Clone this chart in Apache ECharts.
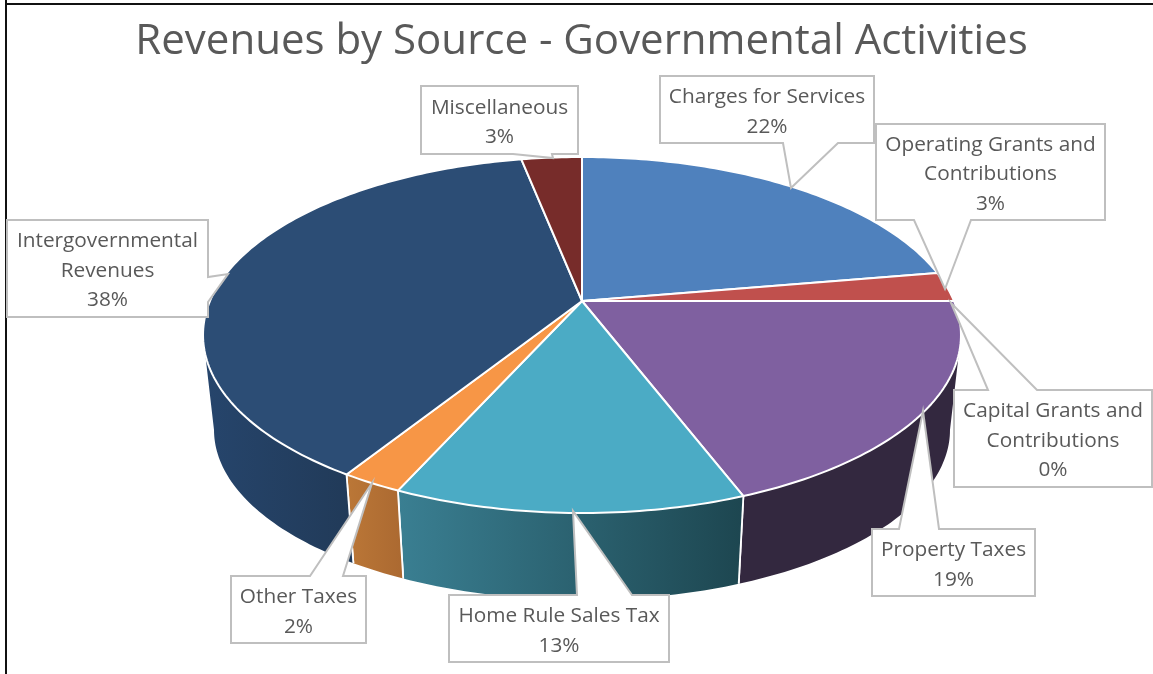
<!DOCTYPE html>
<html>
<head>
<meta charset="utf-8">
<style>html,body{margin:0;padding:0;background:#fff}#c{width:1153px;height:674px}</style>
<script src="https://cdn.jsdelivr.net/npm/echarts@6/dist/echarts.min.js"></script>
</head>
<body>
<div id="c"></div>
<script>
var titleText = 'Revenues by Source - Governmental Activities';
var categories = ['Charges for Services', 'Operating Grants and\nContributions', 'Capital Grants and\nContributions', 'Property Taxes', 'Home Rule Sales Tax', 'Other Taxes', 'Intergovernmental\nRevenues', 'Miscellaneous'];
var values = [22.3, 2.7, 0, 19.2, 12.5, 2.2, 38.0, 3.1];
var topColors = ['#4f81bd', '#c0504d', '#9bbb59', '#7f60a0', '#4babc5', '#f79646', '#2c4d75', '#772c2a'];
var sideLeft = ['#3f658f', '#8e3b39', '#738a42', '#33283f', '#3a7f92', '#bb7737', '#26456c', '#582120'];
var sideRight = ['#3f658f', '#8e3b39', '#738a42', '#33283f', '#1d4650', '#ab6931', '#213a58', '#582120'];
// callout layout: box [x0,y0,x1,y1], wedge [base, tip, base]
var callouts = [
  {box:[660,76,874,143], wedge:[[838,143],[791,188],[783,143]], side:'b'},
  {box:[876,124,1105,220], wedge:[[971,220],[945,289],[914,220]], side:'b'},
  {box:[954,390,1152,487], wedge:[[988,390],[951,303],[1037,390]], side:'t'},
  {box:[872,529,1035,596], wedge:[[899,529],[923,411],[939,529]], side:'t'},
  {box:[449,595,669,662], wedge:[[577,595],[573,511],[632,595]], side:'t'},
  {box:[231,576,366,643], wedge:[[310,576],[372,483],[343,576]], side:'t'},
  {box:[7,220,208,317], wedge:[[208,277],[228,274],[208,302]], side:'r'},
  {box:[421,86,578,154], wedge:[[552,154],[553,158],[513,154]], side:'b'}
];
var total = values.reduce(function(a,b){return a+b;},0);
var cum = [0];
values.forEach(function(v,i){cum.push(cum[i]+v);});

var cx=582, py=301, a=171.5, b=372, k=-0.191, depthY=430, ey=335, sx=0.971, sy=0.955;
var rimStart=101, rimEnd=259;
function pt(deg){
  var t=deg*Math.PI/180, u=Math.sin(t), v=-Math.cos(t), d=1+k*v;
  return [cx+b*u/d, py+a*v/d];
}
function low(p){ return [cx+(p[0]-cx)*sx, depthY+(p[1]-ey)*sy]; }
function arc(d0,d1){
  var r=[], n=Math.max(2,Math.ceil(Math.abs(d1-d0)));
  for(var i=0;i<=n;i++) r.push(pt(d0+(d1-d0)*i/n));
  return r;
}
function span(i){ return [cum[i]/total*360, cum[i+1]/total*360]; }

function renderSide(params, api){
  var i=params.dataIndex, s=span(i), d0=Math.max(s[0],rimStart), d1=Math.min(s[1],rimEnd);
  if(api.value(0)<=0 || d1<=d0) return {type:'group',children:[]};
  var t=arc(d0,d1), l=t.map(low).reverse();
  var kids=[{type:'polygon',shape:{points:t.concat(l)},style:{
    fill:{type:'linear',x:0,y:0,x2:1,y2:0,colorStops:[{offset:0,color:sideLeft[i]},{offset:1,color:sideRight[i]}]},
    stroke:null}}];
  [[d0,s[0]],[d1,s[1]]].forEach(function(e){
    if(e[0]===e[1] && e[0]>rimStart && e[0]<rimEnd){
      var p=pt(e[0]), q=low(p);
      kids.push({type:'line',shape:{x1:p[0],y1:p[1],x2:q[0],y2:q[1]},style:{stroke:'#fff',lineWidth:1.8}});
    }
  });
  return {type:'group',children:kids};
}
function renderTop(params, api){
  var i=params.dataIndex, s=span(i);
  if(api.value(0)<=0) return {type:'group',children:[]};
  return {type:'polygon',shape:{points:[[cx,py]].concat(arc(s[0],s[1]))},
    style:{fill:topColors[i],stroke:'#fff',lineWidth:2,lineJoin:'round'}};
}
function renderCallout(params, api){
  var i=params.dataIndex, c=callouts[i], B=c.box, w=c.wedge, pts;
  var x0=B[0],y0=B[1],x1=B[2],y1=B[3];
  if(c.side==='b') pts=[[x0,y0],[x1,y0],[x1,y1]].concat(w).concat([[x0,y1]]);
  else if(c.side==='t') pts=[[x0,y0]].concat(w).concat([[x1,y0],[x1,y1],[x0,y1]]);
  else pts=[[x0,y0],[x1,y0]].concat(w).concat([[x1,y1],[x0,y1]]);
  var pct=Math.round(api.value(0)/total*100)+'%';
  return {type:'group',children:[
    {type:'polygon',shape:{points:pts},style:{fill:'#fff',stroke:'#bfbfbf',lineWidth:2,lineJoin:'miter'}},
    {type:'text',style:{text:categories[i]+'\n'+pct,x:(x0+x1)/2,y:(y0+y1)/2+2.5,align:'center',verticalAlign:'middle',
      fill:'#595959',font:'20.8px "Open Sans"',lineHeight:29.5}}
  ]};
}
var data=values.map(function(v,i){return {name:categories[i].replace('\n',' '),value:[v]};});
function series(fn,z){return {type:'custom',coordinateSystem:'none',renderItem:fn,data:data,z:z,silent:true,animation:false,clip:false};}

var chart=echarts.init(document.getElementById('c'),null,{renderer:'canvas'});
chart.setOption({
  animation:false,
  backgroundColor:'#fff',
  title:{text:titleText,left:576.5,top:16,textAlign:'center',textStyle:{color:'#595959',fontFamily:'Open Sans',fontWeight:'normal',fontSize:42}},
  graphic:[
    {type:'line',z:1,shape:{x1:6,y1:0,x2:6,y2:674},style:{stroke:'#111',lineWidth:2}},
    {type:'line',z:1,shape:{x1:5,y1:4,x2:1153,y2:4},style:{stroke:'#111',lineWidth:2}}
  ],
  series:[series(renderSide,2),series(renderTop,3),series(renderCallout,4)]
});
</script>
</body>
</html>
